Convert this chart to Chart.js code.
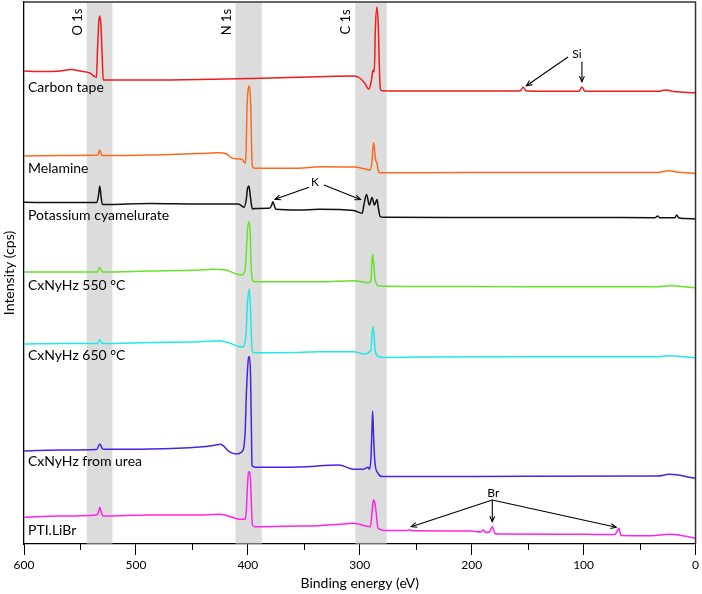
<!DOCTYPE html>
<html><head><meta charset="utf-8">
<script src="https://cdn.jsdelivr.net/npm/chart.js@4.4.0/dist/chart.umd.min.js"></script>
<style>html,body{margin:0;padding:0;background:#fff;}</style>
</head><body>
<canvas id="c" width="702" height="594"></canvas>
<script>
// ---- data: [binding energy (eV), stacked intensity (a.u.)] ----
const carbonTape = [[600,473],[585,472.5],[568,473],[557.3,474.5],[550,473],[541.2,471],[537.7,468],[535.3,466.5],[534.3,495],[533.2,522],[532.3,528],[531.3,520],[530.2,490],[529.2,464],[527,464],[487.8,464],[443.3,464.5],[400,465.5],[354.3,466.7],[336.5,467.3],[305.3,468],[300,466],[295,460],[292,454.7],[289.5,464],[288.2,474],[287,472],[286.1,514],[284.6,537],[283.3,514],[282.4,474],[281.6,454.7],[279.5,453.3],[250,453],[200,453],[156.7,453],[154,456.7],[151.3,453],[104.2,452.7],[101.5,457],[98.8,452.7],[33.8,452.7],[26.6,454],[19.6,452.5],[0,451.3]];
const melamine = [[600,388],[568,388.5],[534,389],[532.3,394],[530.5,388.5],[487.8,389],[443.3,390.5],[425.5,391.3],[419,390],[413.9,385.7],[405,384.5],[402.4,380.7],[401.5,394],[400.8,434],[399.5,456],[398.5,458],[397.3,434],[396.6,394],[395.9,377.3],[393.5,375.7],[354.3,375.7],[336.5,377.3],[305.3,377],[295,375],[290.6,374],[289,384],[288,399],[287.5,401.3],[286.6,392],[285.8,384],[284.6,381],[283.6,374],[282.5,371.3],[250,371.3],[150,371.5],[33.8,371.5],[23.4,373.3],[16,372],[0,370.7]];
const potassiumCyamelurate = [[600,341.7],[568,341.5],[535,341.5],[533.5,348],[532.3,358],[531.2,348],[530,339.5],[527,339.5],[487.8,340.5],[443.3,340],[408.5,340],[403.3,336.7],[401.5,344],[400.2,356],[399,358],[397.8,348],[395.9,335],[393.5,335.5],[381,335.7],[379,338],[377.6,342.3],[376.2,338],[374.9,334.7],[354.3,334],[336.5,334.7],[305.3,333.5],[297.9,330.7],[296.3,339],[294,349.5],[291.4,339],[289.1,346.5],[286.8,339],[284.6,344.5],[283.5,337],[281.8,327.5],[279,326.7],[200,326.5],[100,326.5],[36,326.3],[33.8,328],[32,326.3],[18.5,326.3],[16.8,329],[15,326.3],[10,325.5],[0,325]];
const cxnyhz550 = [[600,272],[568,272],[534.5,272],[532.3,276.5],[530,272],[487.8,273],[443.3,274],[431.8,274.7],[418,273.5],[410.4,270],[405.5,269],[403.3,271],[402.4,274],[401.3,294],[400.2,316],[398.8,322.3],[397.8,309],[397.1,279],[396.2,266],[395.3,263],[393.5,262.3],[354.3,262.3],[336.5,262.3],[305.3,263.3],[292,261.3],[290,264],[289.3,279],[288.5,289.5],[287.4,278],[286.5,266],[284.5,259],[283,258],[250,257.5],[150,257.3],[33.8,257.3],[23.4,258.3],[0,256.3]];
const cxnyhz650 = [[600,200],[568,200.5],[534.5,200.5],[532.3,204],[530,200.5],[487.8,201.5],[443.3,202.3],[425.5,203.3],[416.6,201],[408,197.5],[405,197],[402.5,202],[401.4,214],[400.5,239],[399.2,252],[398.7,254.7],[397.6,234],[396.7,204],[395.9,192.3],[393.5,191.3],[354.3,191.5],[336.5,192.3],[305.3,192.3],[296.3,190],[290,194],[289.1,209],[288.2,217.3],[287.2,209],[286.3,194],[283.1,187.3],[280,186.5],[250,187],[150,187.3],[33.8,187.3],[25.8,188.3],[0,186.3]];
const cxnyhzUrea = [[600,93],[568,94],[535,94.5],[532.3,100],[529.4,94.7],[487.8,95],[443.3,97],[431,98.5],[424.5,99.7],[416.6,92.3],[410.7,90],[405.2,92.3],[403.5,97.3],[402.3,114],[401.5,144],[400.3,174],[399.2,187],[398.5,187.3],[397.6,169],[396.8,114],[396.3,79],[395.3,77.5],[393.5,76.7],[354.3,77],[318.7,79],[305.3,74.7],[297,74.7],[292.6,76.7],[291.5,74.7],[290.1,84],[289.1,114],[288.5,133],[287.5,104],[286.5,82],[283.7,70.7],[280,67.5],[250,67.5],[150,67.7],[33.8,68],[23.4,69.7],[0,65.7]];
const ptiLiBr = [[600,26.7],[568,28],[535,29],[533.5,32],[532.3,36.7],[531,32],[529.4,28],[487.8,29],[443.3,29],[425.5,29.7],[412,26],[407.7,24.7],[402.4,24.7],[401.3,34],[400.3,59],[399.3,72],[398.5,72.3],[397.6,64],[396.8,39],[395.9,19],[393.5,17.3],[354.3,18],[336.5,18.3],[318.7,19.7],[305.3,20.7],[290.6,17.3],[289.2,29],[288.2,42],[287.5,44],[286.5,41],[285.6,34],[283.7,16],[282.1,14.7],[279,13.5],[258,13.5],[255.5,14.2],[253,13.3],[200,13],[192,12],[189.5,14],[187.5,11.5],[184,12],[181.6,17.3],[179.2,10.5],[176,10],[100,9.7],[72,9.5],[70,13],[68.6,15.7],[66.5,8.5],[40,8.3],[23.4,9.7],[10,8],[0,5.7]];

const seriesNames = ['Carbon tape','Melamine','Potassium cyamelurate','CxNyHz 550 °C','CxNyHz 650 °C','CxNyHz from urea','PTI.LiBr'];
const seriesData = [carbonTape, melamine, potassiumCyamelurate, cxnyhz550, cxnyhz650, cxnyhzUrea, ptiLiBr];
const seriesColors = ['#f21a1a','#ff6a1a','#111111','#66e22c','#1ee8e8','#4a22e6','#ff22ea'];
const seriesLabelY = [456.7, 375.7, 329, 259, 188.3, 82.3, 14];

const bandNames = ['O 1s','N 1s','C 1s'];
const bandFrom = [544, 411, 304];
const bandTo = [521, 387.5, 276];

const annoText = ['Si','K','Br'];
const annoE = [105.9, 340.1, 180.7];
const annoV = [490, 362, 51.3];
// arrows: from (eV, value) -> to (eV, value)
const arrowFromE = [113.9, 101.5, 345.4, 332.0, 181.6, 181.6, 181.6];
const arrowFromV = [487, 482.3, 356.7, 359, 44, 44, 44];
const arrowToE   = [151.1, 101.5, 375.7, 299.4, 254.0, 181.6, 70.9];
const arrowToV   = [458.3, 462.3, 344.7, 344.5, 17.3, 22.3, 16.7];

const FONT = 'Lato, "Open Sans", sans-serif';

const deco = {
  id: 'deco',
  beforeDatasetsDraw(chart) {
    const {ctx, chartArea: a, scales: {x}} = chart;
    ctx.save();
    ctx.fillStyle = '#dcdcdc';
    bandFrom.forEach((f, i) => {
      const x1 = x.getPixelForValue(f), x2 = x.getPixelForValue(bandTo[i]);
      ctx.fillRect(x1, a.top + 1, x2 - x1, a.bottom - a.top - 1.5);
    });
    ctx.restore();
  },
  afterDraw(chart) {
    const {ctx, chartArea: a, scales: {x, y}} = chart;
    ctx.save();
    // frame top/right
    ctx.strokeStyle = '#333';
    ctx.lineWidth = 1.5;
    ctx.beginPath();
    ctx.moveTo(a.left, a.top); ctx.lineTo(a.right, a.top); ctx.lineTo(a.right, a.bottom);
    ctx.stroke();
    // minor ticks
    ctx.strokeStyle = '#000';
    ctx.lineWidth = 1;
    for (let v = 50; v < 600; v += 100) {
      const px = Math.round(x.getPixelForValue(v)) + 0.5;
      ctx.beginPath(); ctx.moveTo(px, a.bottom); ctx.lineTo(px, a.bottom + 6); ctx.stroke();
    }
    // band labels
    ctx.fillStyle = '#000';
    ctx.font = '13px ' + FONT;
    ctx.textAlign = 'center';
    ctx.textBaseline = 'middle';
    bandNames.forEach((n, i) => {
      const px = x.getPixelForValue(bandFrom[i]) - 9;
      ctx.save();
      ctx.translate(px, 22);
      ctx.rotate(-Math.PI / 2);
      ctx.fillText(n, 0, 0);
      ctx.restore();
    });
    // series labels
    ctx.font = '14px ' + FONT;
    ctx.textAlign = 'left';
    seriesNames.forEach((n, i) => {
      ctx.fillText(n, a.left + 4, y.getPixelForValue(seriesLabelY[i]));
    });
    // annotations
    ctx.font = '12px ' + FONT;
    ctx.textAlign = 'center';
    annoText.forEach((t, i) => {
      ctx.fillText(t, x.getPixelForValue(annoE[i]), y.getPixelForValue(annoV[i]));
    });
    ctx.lineWidth = 1.1;
    arrowFromE.forEach((fe, i) => {
      const x1 = x.getPixelForValue(fe), y1 = y.getPixelForValue(arrowFromV[i]);
      const x2 = x.getPixelForValue(arrowToE[i]), y2 = y.getPixelForValue(arrowToV[i]);
      ctx.beginPath(); ctx.moveTo(x1, y1); ctx.lineTo(x2, y2); ctx.stroke();
      const ang = Math.atan2(y2 - y1, x2 - x1), L = 6, w = 0.42;
      ctx.beginPath();
      ctx.moveTo(x2 - L * Math.cos(ang - w), y2 - L * Math.sin(ang - w));
      ctx.lineTo(x2, y2);
      ctx.lineTo(x2 - L * Math.cos(ang + w), y2 - L * Math.sin(ang + w));
      ctx.stroke();
    });
    ctx.restore();
  }
};

new Chart(document.getElementById('c'), {
  type: 'line',
  data: {
    datasets: seriesData.map((d, i) => ({
      label: seriesNames[i],
      data: d.map(p => ({x: p[0], y: p[1]})),
      borderColor: seriesColors[i],
      borderWidth: 1.5,
      pointRadius: 0,
      fill: false,
      cubicInterpolationMode: 'monotone'
    }))
  },
  options: {
    responsive: false,
    animation: false,
    devicePixelRatio: 1,
    layout: {padding: {left: 0, right: 4, top: 2, bottom: 0}},
    plugins: {legend: {display: false}, tooltip: {enabled: false}},
    scales: {
      x: {
        type: 'linear', reverse: true, min: 0, max: 600,
        ticks: {stepSize: 50, autoSkip: false, maxRotation: 0, padding: 3, color: '#000',
          font: {family: FONT, size: 12},
          callback: v => (v % 100 === 0 ? String(v) : '')},
        grid: {display: true, drawOnChartArea: false, drawTicks: true, tickLength: 11,
          tickColor: c => (c.tick && c.tick.value % 100 === 0 ? '#000' : 'rgba(0,0,0,0)'), tickWidth: 1},
        border: {display: true, color: '#000', width: 1.3},
        title: {display: true, text: 'Binding energy (eV)', color: '#000',
          font: {family: FONT, size: 14}, padding: {top: 0, bottom: 2}},
        afterFit: s => { s.height = 50; }
      },
      y: {
        min: 0, max: 542,
        ticks: {display: false},
        grid: {display: false},
        border: {display: true, color: '#000', width: 1.3},
        title: {display: true, text: 'Intensity (cps)', color: '#000',
          font: {family: FONT, size: 14}, padding: {top: 1, bottom: 0}},
        afterFit: s => { s.width = 24; }
      }
    }
  },
  plugins: [deco]
});
</script>
</body></html>
